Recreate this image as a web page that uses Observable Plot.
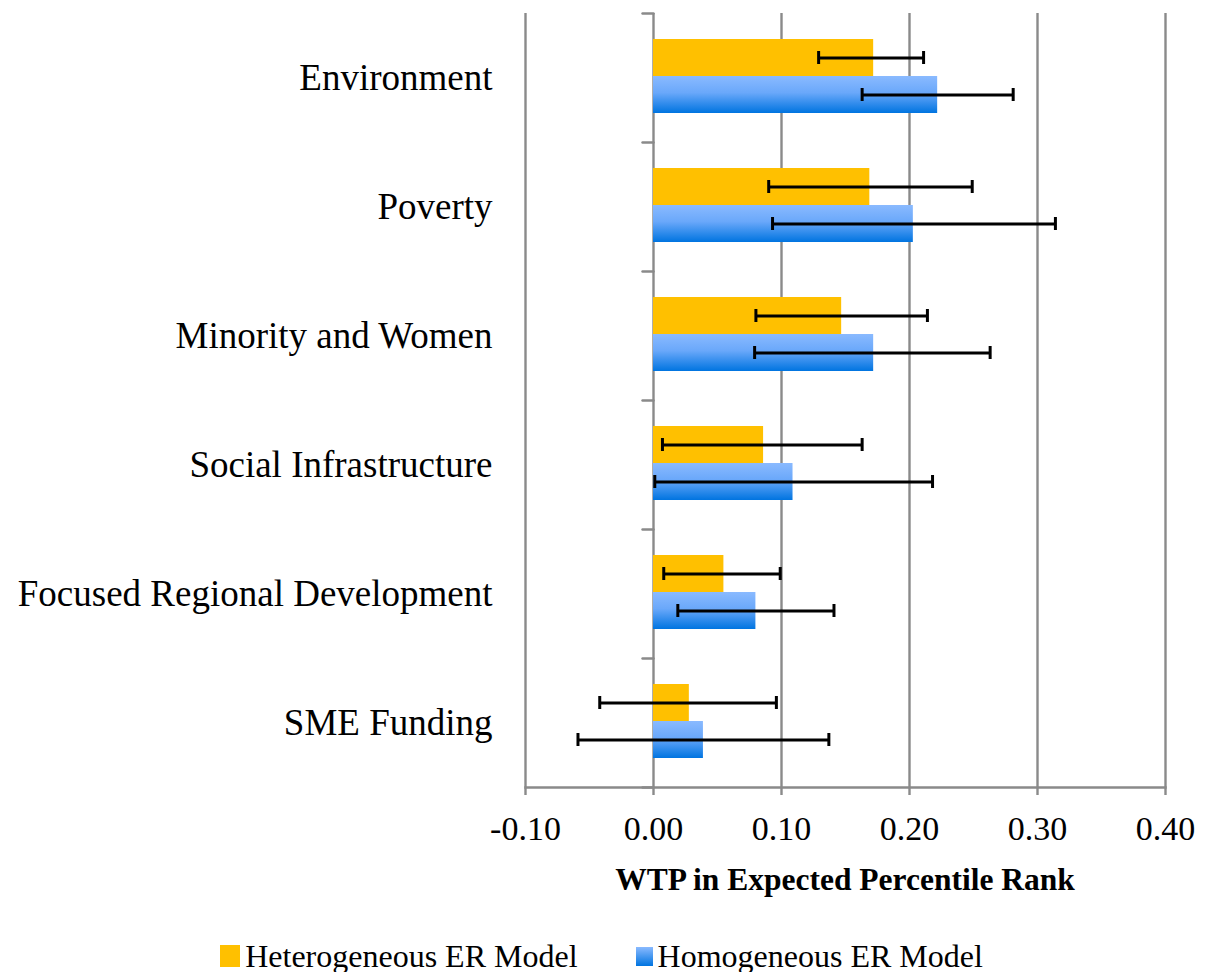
<!DOCTYPE html>
<html>
<head>
<meta charset="utf-8">
<script src="https://cdn.jsdelivr.net/npm/d3@7"></script>
<script src="https://cdn.jsdelivr.net/npm/@observablehq/plot@0.6"></script>
<style>
  html, body { margin: 0; padding: 0; background: #fff; }
  body { width: 1209px; font-family: "Liberation Serif", "Times New Roman", serif; }
  #chart svg { display: block; }
  #title { width: 640px; margin-left: 525px; text-align: center; font-weight: bold; font-size: 31.5px; line-height: 36px; margin-top: 2px; color: #000; }
  #legend { display: flex; justify-content: center; align-items: center; gap: 58px; margin-top: 42px; font-size: 32px; line-height: 32px; color: #000; padding-right: 6px; }
  .item { display: flex; align-items: center; }
  .sw { display: inline-block; margin-right: 5px; }
</style>
</head>
<body>
<div id="chart"></div>
<div id="title">WTP in Expected Percentile Rank</div>
<div id="legend"></div>
<script>
// ---- data ----
const categories = ["Environment", "Poverty", "Minority and Women", "Social Infrastructure", "Focused Regional Development", "SME Funding"];
const seriesNames = ["Heterogeneous ER Model", "Homogeneous ER Model"];
const heteroValue = [0.172, 0.169, 0.147, 0.086, 0.055, 0.028];
const heteroLow   = [0.129, 0.090, 0.080, 0.007, 0.008, -0.042];
const heteroHigh  = [0.211, 0.249, 0.214, 0.163, 0.099, 0.096];
const homoValue   = [0.222, 0.203, 0.172, 0.109, 0.080, 0.039];
const homoLow     = [0.163, 0.093, 0.079, 0.001, 0.019, -0.059];
const homoHigh    = [0.281, 0.314, 0.263, 0.218, 0.141, 0.137];
const xTicks = [-0.10, 0.00, 0.10, 0.20, 0.30, 0.40];
const xTickLabels = ["-0.10", "0.00", "0.10", "0.20", "0.30", "0.40"];

// table built from the arrays
const rows = [];
categories.forEach((c, i) => {
  rows.push({category: c, series: seriesNames[0], value: heteroValue[i], lo: heteroLow[i], hi: heteroHigh[i]});
  rows.push({category: c, series: seriesNames[1], value: homoValue[i], lo: homoLow[i], hi: homoHigh[i]});
});

const gray = "#8a8a8a";
const lineShape = { draw(context, l) { context.moveTo(0, 0); context.lineTo(0, -l); } };

const chart = Plot.plot({
  width: 1209,
  height: 860,
  marginTop: 10,
  marginBottom: 71,
  marginLeft: 525,
  marginRight: 44,
  style: { fontFamily: "'Liberation Serif', 'Times New Roman', serif", color: "#000", background: "#fff" },
  x: { domain: [-0.1, 0.4] },
  y: { domain: seriesNames, paddingInner: 0, paddingOuter: 0.73, align: 0.48, axis: null },
  fy: { domain: categories, padding: 0 },
  color: { domain: seriesNames, range: ["#FFC000", "url(#blueGrad)"] },
  marks: [
    Plot.gridX({ ticks: xTicks, stroke: gray, strokeOpacity: 1, strokeWidth: 2.4 }),
    Plot.vector(categories, { fy: d => d, x: 0, frameAnchor: "top", rotate: -90, length: 11, anchor: "start", shape: lineShape, stroke: gray, strokeWidth: 2.4 }),
    Plot.vector(categories.slice(-1), { fy: d => d, x: 0, frameAnchor: "bottom", rotate: -90, length: 11, anchor: "start", shape: lineShape, stroke: gray, strokeWidth: 2.4 }),
    Plot.frame({ anchor: "bottom", stroke: gray, strokeWidth: 2.4, facetAnchor: "bottom" }),
    Plot.axisX({
      ticks: xTicks, tickFormat: (d) => xTickLabels[xTicks.findIndex(t => Math.abs(t - d) < 1e-9)],
      tickSize: 8, stroke: gray, strokeWidth: 2.4, tickPadding: 20, fontSize: 34, label: null
    }),
    Plot.axisFy({ anchor: "left", tickSize: 0, tickPadding: 33, fontSize: 37, label: null }),
    Plot.barX(rows, { x: "value", y: "series", fy: "category", fill: "series", ariaLabel: "bars" }),
    Plot.ruleY(rows, { y: "series", fy: "category", x1: "lo", x2: "hi", stroke: "#000", strokeWidth: 3 }),
    Plot.tickX(rows, { x: "lo", y: "series", fy: "category", stroke: "#000", strokeWidth: 3, insetTop: 12, insetBottom: 12 }),
    Plot.tickX(rows, { x: "hi", y: "series", fy: "category", stroke: "#000", strokeWidth: 3, insetTop: 12, insetBottom: 12 })
  ]
});

// gradient + shadow definitions
const ns = "http://www.w3.org/2000/svg";
const defs = document.createElementNS(ns, "defs");
defs.innerHTML = `
  <linearGradient id="blueGrad" x1="0" y1="0" x2="0" y2="1">
    <stop offset="0%" stop-color="#8ABAFF"/>
    <stop offset="45%" stop-color="#6AA8FA"/>
    <stop offset="100%" stop-color="#0074E0"/>
  </linearGradient>
  <filter id="shadow" x="-10%" y="-20%" width="130%" height="160%">
    <feDropShadow dx="2" dy="3" stdDeviation="2.5" flood-color="#000" flood-opacity="0.35"/>
  </filter>`;
chart.insertBefore(defs, chart.firstChild);
chart.querySelectorAll('g[aria-label="bars"]').forEach(g => g.setAttribute("filter", "url(#shadow)"));
document.getElementById("chart").appendChild(chart);

// legend
const legend = document.getElementById("legend");
const swatches = [
  { bg: "#FFC000", w: 20, h: 22 },
  { bg: "linear-gradient(#8ABAFF, #0074E0)", w: 17, h: 19 }
];
seriesNames.forEach((name, i) => {
  const item = document.createElement("div");
  item.className = "item";
  const sw = document.createElement("span");
  sw.className = "sw";
  sw.style.width = swatches[i].w + "px";
  sw.style.height = swatches[i].h + "px";
  sw.style.background = swatches[i].bg;
  item.appendChild(sw);
  item.appendChild(document.createTextNode(name));
  legend.appendChild(item);
});
</script>
</body>
</html>
